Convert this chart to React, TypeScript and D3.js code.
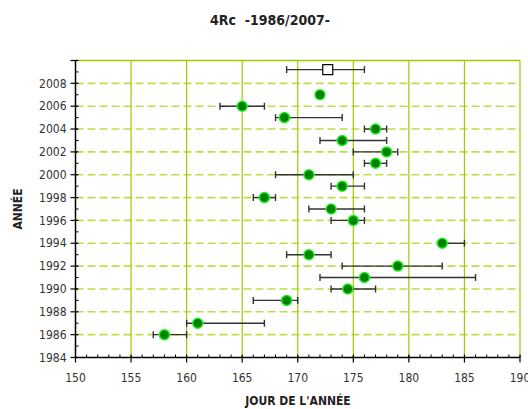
import React from "react";
import * as d3 from "d3";

// data (jour de l'année)
const years = [1986, 1987, 1989, 1990, 1991, 1992, 1993, 1994, 1996, 1997, 1998, 1999, 2000, 2001, 2002, 2003, 2004, 2005, 2006, 2007];
const meanDay = [158, 161, 169, 174.5, 176, 179, 171, 183, 175, 173, 167, 174, 171, 177, 178, 174, 177, 168.8, 165, 172];
const minDay = [157, 160, 166, 173, 172, 174, 169, 183, 173, 171, 166, 173, 168, 176, 175, 172, 176, 168, 163, 172];
const maxDay = [160, 167, 170, 177, 186, 183, 173, 185, 176, 176, 168, 176, 175, 178, 179, 178, 178, 174, 167, 172];

// overall mean (square marker)
const avgYear = [2009.2];
const avgDay = [172.7];
const avgMin = [169];
const avgMax = [176];

const xTicks = [150, 155, 160, 165, 170, 175, 180, 185, 190];
const yTicks = [1984, 1986, 1988, 1990, 1992, 1994, 1996, 1998, 2000, 2002, 2004, 2006, 2008];

const W = 528;
const H = 409;
const margin = { top: 60.5, right: 8, bottom: 51.5, left: 75.5 };
const font = "'Liberation Sans Narrow', 'DejaVu Sans Condensed', 'Arial Narrow', sans-serif";

export default function App() {
  const x = d3.scaleLinear().domain([150, 190]).range([margin.left, W - margin.right]);
  const y = d3.scaleLinear().domain([1984, 2010]).range([H - margin.bottom, margin.top]);

  const minorX = d3.range(150, 191, 1);
  const minorY = d3.range(1984, 2011, 1);

  const rows = years.map((yr, i) => ({ yr, mean: meanDay[i], lo: minDay[i], hi: maxDay[i] }));
  const avg = avgYear.map((yr, i) => ({ yr, mean: avgDay[i], lo: avgMin[i], hi: avgMax[i] }));

  const bar = (d: { yr: number; lo: number; hi: number }, key: string) => {
    if (d.hi - d.lo <= 0) return null;
    const cy = y(d.yr);
    return (
      <g key={key} stroke="#333" strokeWidth={1.4}>
        <line x1={x(d.lo)} x2={x(d.hi)} y1={cy} y2={cy} />
        <line x1={x(d.lo)} x2={x(d.lo)} y1={cy - 3.5} y2={cy + 3.5} />
        <line x1={x(d.hi)} x2={x(d.hi)} y1={cy - 3.5} y2={cy + 3.5} />
      </g>
    );
  };

  return (
    <svg width={W} height={H} style={{ position: "absolute", left: 0, top: 0, background: "#fff" }}>
      <text x={270} y={25} textAnchor="middle" fontFamily={font} fontWeight="bold" fontSize={14} fill="#222"
        style={{ whiteSpace: "pre" }}>
        {"4Rc  -1986/2007-"}
      </text>

      {/* horizontal dashed grid */}
      {yTicks.slice(1).map((t) => (
        <line key={"hg" + t} x1={x(150)} x2={x(190)} y1={y(t)} y2={y(t)}
          stroke="#bfdd4a" strokeWidth={1.6} strokeDasharray="8,4" />
      ))}

      {/* vertical grid */}
      {xTicks.slice(1).map((t) => (
        <line key={"vg" + t} x1={x(t)} x2={x(t)} y1={y(2010)} y2={y(1984)} stroke="#9acd00" strokeWidth={1.2} />
      ))}
      <line x1={x(150)} x2={x(190)} y1={y(2010)} y2={y(2010)} stroke="#9acd00" strokeWidth={1.5} />

      {/* error bars and points */}
      {rows.map((d) => bar(d, "b" + d.yr))}
      {avg.map((d) => bar(d, "a" + d.yr))}
      {rows.map((d) => (
        <circle key={"p" + d.yr} cx={x(d.mean)} cy={y(d.yr)} r={5} fill="#008000" stroke="#22ee22" strokeWidth={1.5} />
      ))}
      {avg.map((d) => (
        <rect key={"s" + d.yr} x={x(d.mean) - 5} y={y(d.yr) - 5} width={10} height={10} fill="#fff" stroke="#000" strokeWidth={1.2} />
      ))}

      {/* y axis */}
      <line x1={x(150)} x2={x(150)} y1={y(2010)} y2={y(1984)} stroke="#000" strokeWidth={1.5} />
      {minorY.map((t) => (
        <line key={"ym" + t} x1={x(150)} x2={x(150) + 3} y1={y(t)} y2={y(t)} stroke="#000" strokeWidth={1} />
      ))}
      {[...yTicks, 2010].map((t) => (
        <line key={"yM" + t} x1={x(150) - 5} x2={x(150) + 2} y1={y(t)} y2={y(t)} stroke="#000" strokeWidth={1.2} />
      ))}
      {yTicks.map((t) => (
        <text key={"yl" + t} x={x(150) - 9} y={y(t)} dy="0.35em" textAnchor="end" fontFamily={font} fontSize={12} fill="#333">
          {t}
        </text>
      ))}

      {/* x axis */}
      <line x1={x(150)} x2={x(190)} y1={y(1984)} y2={y(1984)} stroke="#000" strokeWidth={1.5} />
      {minorX.map((t) => (
        <line key={"xm" + t} x1={x(t)} x2={x(t)} y1={y(1984) - 3} y2={y(1984)} stroke="#000" strokeWidth={1} />
      ))}
      {xTicks.map((t) => (
        <line key={"xM" + t} x1={x(t)} x2={x(t)} y1={y(1984) - 2} y2={y(1984) + 5} stroke="#000" strokeWidth={1.2} />
      ))}
      {xTicks.map((t) => (
        <text key={"xl" + t} x={x(t)} y={y(1984) + 24} textAnchor="middle" fontFamily={font} fontSize={12} fill="#333">
          {t}
        </text>
      ))}

      <text x={298} y={405} textAnchor="middle" fontFamily={font} fontWeight="bold" fontSize={12} fill="#222">
        JOUR DE L'ANNÉE
      </text>
      <text transform={`translate(22,${y(1997)}) rotate(-90)`} textAnchor="middle" fontFamily={font} fontWeight="bold" fontSize={12} fill="#222">
        ANNÉE
      </text>
    </svg>
  );
}
